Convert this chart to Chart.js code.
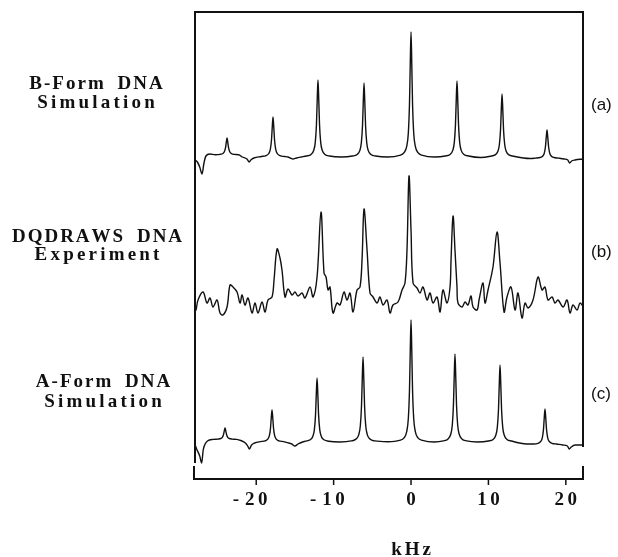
<!DOCTYPE html>
<html><head><meta charset="utf-8">
<script src="https://cdn.jsdelivr.net/npm/chart.js@4/dist/chart.umd.min.js"></script>
<style>html,body{margin:0;padding:0;background:#fff}</style>
</head><body>
<canvas id="c" width="618" height="557"></canvas>
<script>
// ---- DATA (frequency in kHz, intensity in arbitrary units above each trace's baseline)
const freqA = [-27.9,-27.6,-27.3,-27.0,-26.75,-26.5,-26.0,
 -25.27,-24.67,-24.32,-24.12,-23.97,-23.87,-23.77,-23.67,-23.57,-23.42,-23.22,-22.87,-22.27,
 -21.8,-21.2,-20.9,-20.7,-20.3,
 -19.33,-18.73,-18.38,-18.18,-18.03,-17.93,-17.83,-17.73,-17.63,-17.48,-17.28,-16.93,-16.33,
 -15.9,-15.6,-15.25,-14.8,-14.2,
 -13.52,-12.92,-12.57,-12.37,-12.22,-12.12,-12.02,-11.92,-11.82,-11.67,-11.47,-11.12,-10.52,
 -9.0,
 -7.57,-6.97,-6.62,-6.42,-6.27,-6.17,-6.07,-5.97,-5.87,-5.72,-5.52,-5.17,-4.57,
 -3.0,
 -1.5,-0.9,-0.55,-0.35,-0.2,-0.1,0,0.1,0.2,0.35,0.55,0.9,1.5,
 3.0,
 4.44,5.04,5.39,5.59,5.74,5.84,5.94,6.04,6.14,6.29,6.49,6.84,7.44,
 9.0,
 10.26,10.86,11.21,11.41,11.56,11.66,11.76,11.86,11.96,12.11,12.31,12.66,13.26,
 14.5,15.4,
 16.07,16.67,17.02,17.22,17.37,17.47,17.57,17.67,17.77,17.92,18.12,18.47,19.07,
 19.8,20.25,20.5,20.75,21.2,22.2];
const intensA = [-3,-5,-10,-17,-6,1,3,
 2.2,2.6,3.5,5.2,9.1,14.6,19,14.6,9.1,5.2,3.5,2.6,2.2,
 0,-2,-5,-3,-1,
 0.5,1.4,3.5,7.6,16.8,29.6,40,29.6,16.8,7.6,3.5,1.4,0.5,
 0,-1,-2,-1,0,
 1.0,2.6,6.7,14.6,32.3,57,77,57,32.3,14.6,6.7,2.6,1.0,
 0,
 1.0,2.5,6.4,14.1,31.1,54.8,74,54.8,31.1,14.1,6.4,2.5,1.0,
 0,
 1.6,4.3,10.9,23.8,52.5,92.5,125,92.5,52.5,23.8,10.9,4.3,1.6,
 0,
 1.0,2.6,6.6,14.4,31.9,56.2,76,56.2,31.9,14.4,6.6,2.6,1.0,
 -0.5,
 0.8,2.1,5.5,12,26.5,46.6,63,46.6,26.5,12,5.5,2.1,0.8,
 -1,-1.5,
 -1.1,-0.5,1.0,3.9,10.5,19.6,27,19.6,10.5,3.9,1.0,-0.5,-1.1,
 -2,-3,-6,-4,-3,-2];

const freqB = [-27.9,-27.78,-27.52,-26.87,-26.36,-25.97,-25.58,-25.06,-24.68,-24.29,-23.77,-23.39,-23.0,-22.48,-22.09,-21.83,-21.45,-21.06,-20.54,-20.16,-19.77,-19.25,-18.86,-18.48,-17.96,-17.7,-17.31,-16.93,-16.67,-16.28,-15.89,-15.37,-14.99,-14.6,-14.08,-13.7,-13.05,-12.66,-12.14,-11.63,-11.24,-10.98,-10.72,-10.47,-10.08,-9.56,-9.17,-8.66,-8.27,-7.88,-7.49,-6.98,-6.59,-6.33,-6.07,-5.68,-5.3,-4.91,-4.39,-4.01,-3.62,-3.1,-2.71,-2.33,-1.68,-1.16,-0.78,-0.52,-0.26,0,0.26,0.78,1.16,1.55,2.07,2.45,2.84,3.36,3.75,4.13,4.65,5.04,5.17,5.43,5.68,5.94,6.07,6.59,6.98,7.36,7.75,8.01,8.53,8.79,9.3,9.56,9.95,10.59,11.11,11.5,12.02,12.4,12.92,13.44,13.82,14.34,14.73,15.12,15.76,16.41,16.93,17.31,17.7,18.22,18.6,18.99,19.64,20.16,20.54,20.93,21.45,21.83,22.2];
const intensB = [-6,-7,3,11,0,5,-4,3,-10,-12,-4,18,16,11,0,8,-2,5,-10,0,-10,1,-9,3,6,23,54,45,33,6,14,8,11,7,10,5,16,6,26,91,30,26,13,16,-10,0,-2,11,3,10,-9,13,16,43,94,53,10,6,0,6,-2,3,-10,-2,1,13,20,53,127,73,20,15,10,16,3,10,0,6,-9,13,0,16,43,87,53,16,0,-4,1,-2,7,-4,-7,3,20,0,13,36,71,40,-9,6,16,-7,10,-15,0,-5,3,26,13,16,3,6,0,3,-4,3,-10,-2,-7,0,-3];

const freqC = [-27.9,-27.7,-27.3,-27.05,-26.85,-26.6,-26.3,
 -25.53,-24.93,-24.58,-24.38,-24.23,-24.13,-24.03,-23.93,-23.83,-23.68,-23.48,-23.13,-22.53,
 -22.0,-21.4,-21.1,-20.9,-20.6,-20.2,
 -19.46,-18.86,-18.51,-18.31,-18.16,-18.06,-17.96,-17.86,-17.76,-17.61,-17.41,-17.06,-16.46,
 -15.8,-15.4,-15.0,-14.6,-14.0,
 -13.64,-13.04,-12.69,-12.49,-12.34,-12.24,-12.14,-12.04,-11.94,-11.79,-11.59,-11.24,-10.64,
 -9.2,
 -7.7,-7.1,-6.75,-6.55,-6.4,-6.3,-6.2,-6.1,-6.0,-5.85,-5.65,-5.3,-4.7,
 -3.0,
 -1.5,-0.9,-0.55,-0.35,-0.2,-0.1,0,0.1,0.2,0.35,0.55,0.9,1.5,
 3.0,
 4.18,4.78,5.13,5.33,5.48,5.58,5.68,5.78,5.88,6.03,6.23,6.58,7.18,
 8.6,
 10.0,10.6,10.95,11.15,11.3,11.4,11.5,11.6,11.7,11.85,12.05,12.4,13.0,
 14.0,15.0,
 15.81,16.41,16.76,16.96,17.11,17.21,17.31,17.41,17.51,17.66,17.86,18.21,18.81,
 19.6,20.2,20.45,20.7,21.2,22.2];
const intensC = [-3,-7,-14,-21,-8,-2,1,
 2.6,2.9,3.5,4.7,7.3,11.0,14,11.0,7.3,4.7,3.5,2.9,2.6,
 1.5,-1,-4,-7,-3,-1,
 0.4,1.1,2.8,6.1,13.4,23.7,32,23.7,13.4,6.1,2.8,1.1,0.4,
 -1,-2,-4,-2,0,
 0.8,2.2,5.6,12.2,26.9,47.4,64,47.4,26.9,12.2,5.6,2.2,0.8,
 0,
 1.1,2.9,7.4,16.2,35.7,62.9,85,62.9,35.7,16.2,7.4,2.9,1.1,
 0.3,
 1.6,4.1,10.6,23.2,51.2,90.3,122,90.3,51.2,23.2,10.6,4.1,1.6,
 0,
 1.1,3.0,7.7,16.7,37,65.1,88,65.1,37,16.7,7.7,3.0,1.1,
 0,
 1.0,2.6,6.7,14.6,32.3,57,77,57,32.3,14.6,6.7,2.6,1.0,
 -1,-2,
 -2.0,-1.3,0.6,4.2,12.4,23.8,33,23.8,12.4,4.2,0.6,-1.3,-2.0,
 -3,-4,-7,-5,-3,-3];

// vertical stacking offsets of the three traces (same units as intensity)
const offsetA = 322, offsetB = 176, offsetC = 37;
const xMin = -27.91, xMax = 22.22;
const tickValues = [-20, -10, 0, 10, 20];
const axisTitle = 'kHz';
const leftLabels = [['B-Form DNA','Simulation'],['DQDRAWS DNA','Experiment'],['A-Form DNA','Simulation']];
const rightLabels = ['(a)','(b)','(c)'];

function pts(f, v, off){ return f.map((x,i)=>({x:x, y:v[i]+off})); }

function spacedText(ctx, text, x, y, sp, align){
  const chars = [...text];
  const ws = chars.map(ch=>ctx.measureText(ch).width + (ch===' ' ? 5 : 0));
  const total = ws.reduce((a,b)=>a+b,0) + sp*(chars.length-1);
  let cx = align==='center' ? x-total/2 : (align==='right' ? x-total : x);
  ctx.textAlign='left';
  chars.forEach((ch,i)=>{ ctx.fillText(ch, cx, y); cx += ws[i]+sp; });
  return total;
}

const decor = {
  id:'decor',
  afterDraw(chart){
    const ctx = chart.ctx, a = chart.chartArea, xs = chart.scales.x;
    ctx.save();
    ctx.strokeStyle='#111'; ctx.fillStyle='#111';
    ctx.lineWidth=2; ctx.lineCap='butt';
    // frame
    ctx.beginPath();
    ctx.moveTo(a.left, a.bottom-16); ctx.lineTo(a.left, a.top); ctx.lineTo(a.right, a.top); ctx.lineTo(a.right, a.bottom-32);
    ctx.stroke();
    // bottom axis bracket
    ctx.beginPath();
    ctx.moveTo(a.left-1, a.bottom-13); ctx.lineTo(a.left-1, a.bottom); ctx.lineTo(a.right, a.bottom); ctx.lineTo(a.right, a.bottom-13);
    ctx.stroke();
    ctx.lineWidth=1.5;
    tickValues.forEach(v=>{
      const px = xs.getPixelForValue(v);
      ctx.beginPath(); ctx.moveTo(px, a.bottom); ctx.lineTo(px, a.bottom+6); ctx.stroke();
    });
    // tick labels
    ctx.font='bold 19px "Liberation Serif"';
    ctx.textBaseline='alphabetic';
    tickValues.forEach(v=>{
      const px = xs.getPixelForValue(v);
      const s = String(Math.abs(v));
      const w = spacedText(ctx, s, px, 505, 3.5, 'center');
      if (v<0) spacedText(ctx, '-', px - w/2 - 6, 505, 0, 'right');
    });
    // axis title
    spacedText(ctx, axisTitle, xs.getPixelForValue(0), 555, 3, 'center');
    // left labels
    const lpos = [[96,89,108],[97,242,260],[103,387,407]];
    leftLabels.forEach((pair,i)=>{
      spacedText(ctx, pair[0], lpos[i][0], lpos[i][1], 2, 'center');
      spacedText(ctx, pair[1], lpos[i][0], lpos[i][2], 3.2, 'center');
    });
    // right labels
    ctx.font='17px "Liberation Sans"';
    ctx.textBaseline='middle';
    rightLabels.forEach((t,i)=>{ ctx.textAlign='left'; ctx.fillText(t, 591, [105,252,394][i]); });
    ctx.restore();
  }
};

const common = {borderColor:'#111', borderWidth:1.4, pointRadius:0, fill:false};
new Chart(document.getElementById('c'), {
  type:'line',
  data:{datasets:[
    Object.assign({label:'B-Form DNA Simulation', data:pts(freqA,intensA,offsetA), cubicInterpolationMode:'monotone'}, common),
    Object.assign({label:'DQDRAWS DNA Experiment', data:pts(freqB,intensB,offsetB), tension:0.35}, common),
    Object.assign({label:'A-Form DNA Simulation', data:pts(freqC,intensC,offsetC), cubicInterpolationMode:'monotone'}, common)
  ]},
  options:{
    responsive:false, animation:false, devicePixelRatio:1,
    layout:{padding:{left:195, right:35, top:12, bottom:78}},
    plugins:{legend:{display:false}, tooltip:{enabled:false}},
    scales:{
      x:{type:'linear', min:xMin, max:xMax, display:false},
      y:{type:'linear', min:0, max:467, display:false}
    }
  },
  plugins:[decor]
});
</script>
</body></html>
